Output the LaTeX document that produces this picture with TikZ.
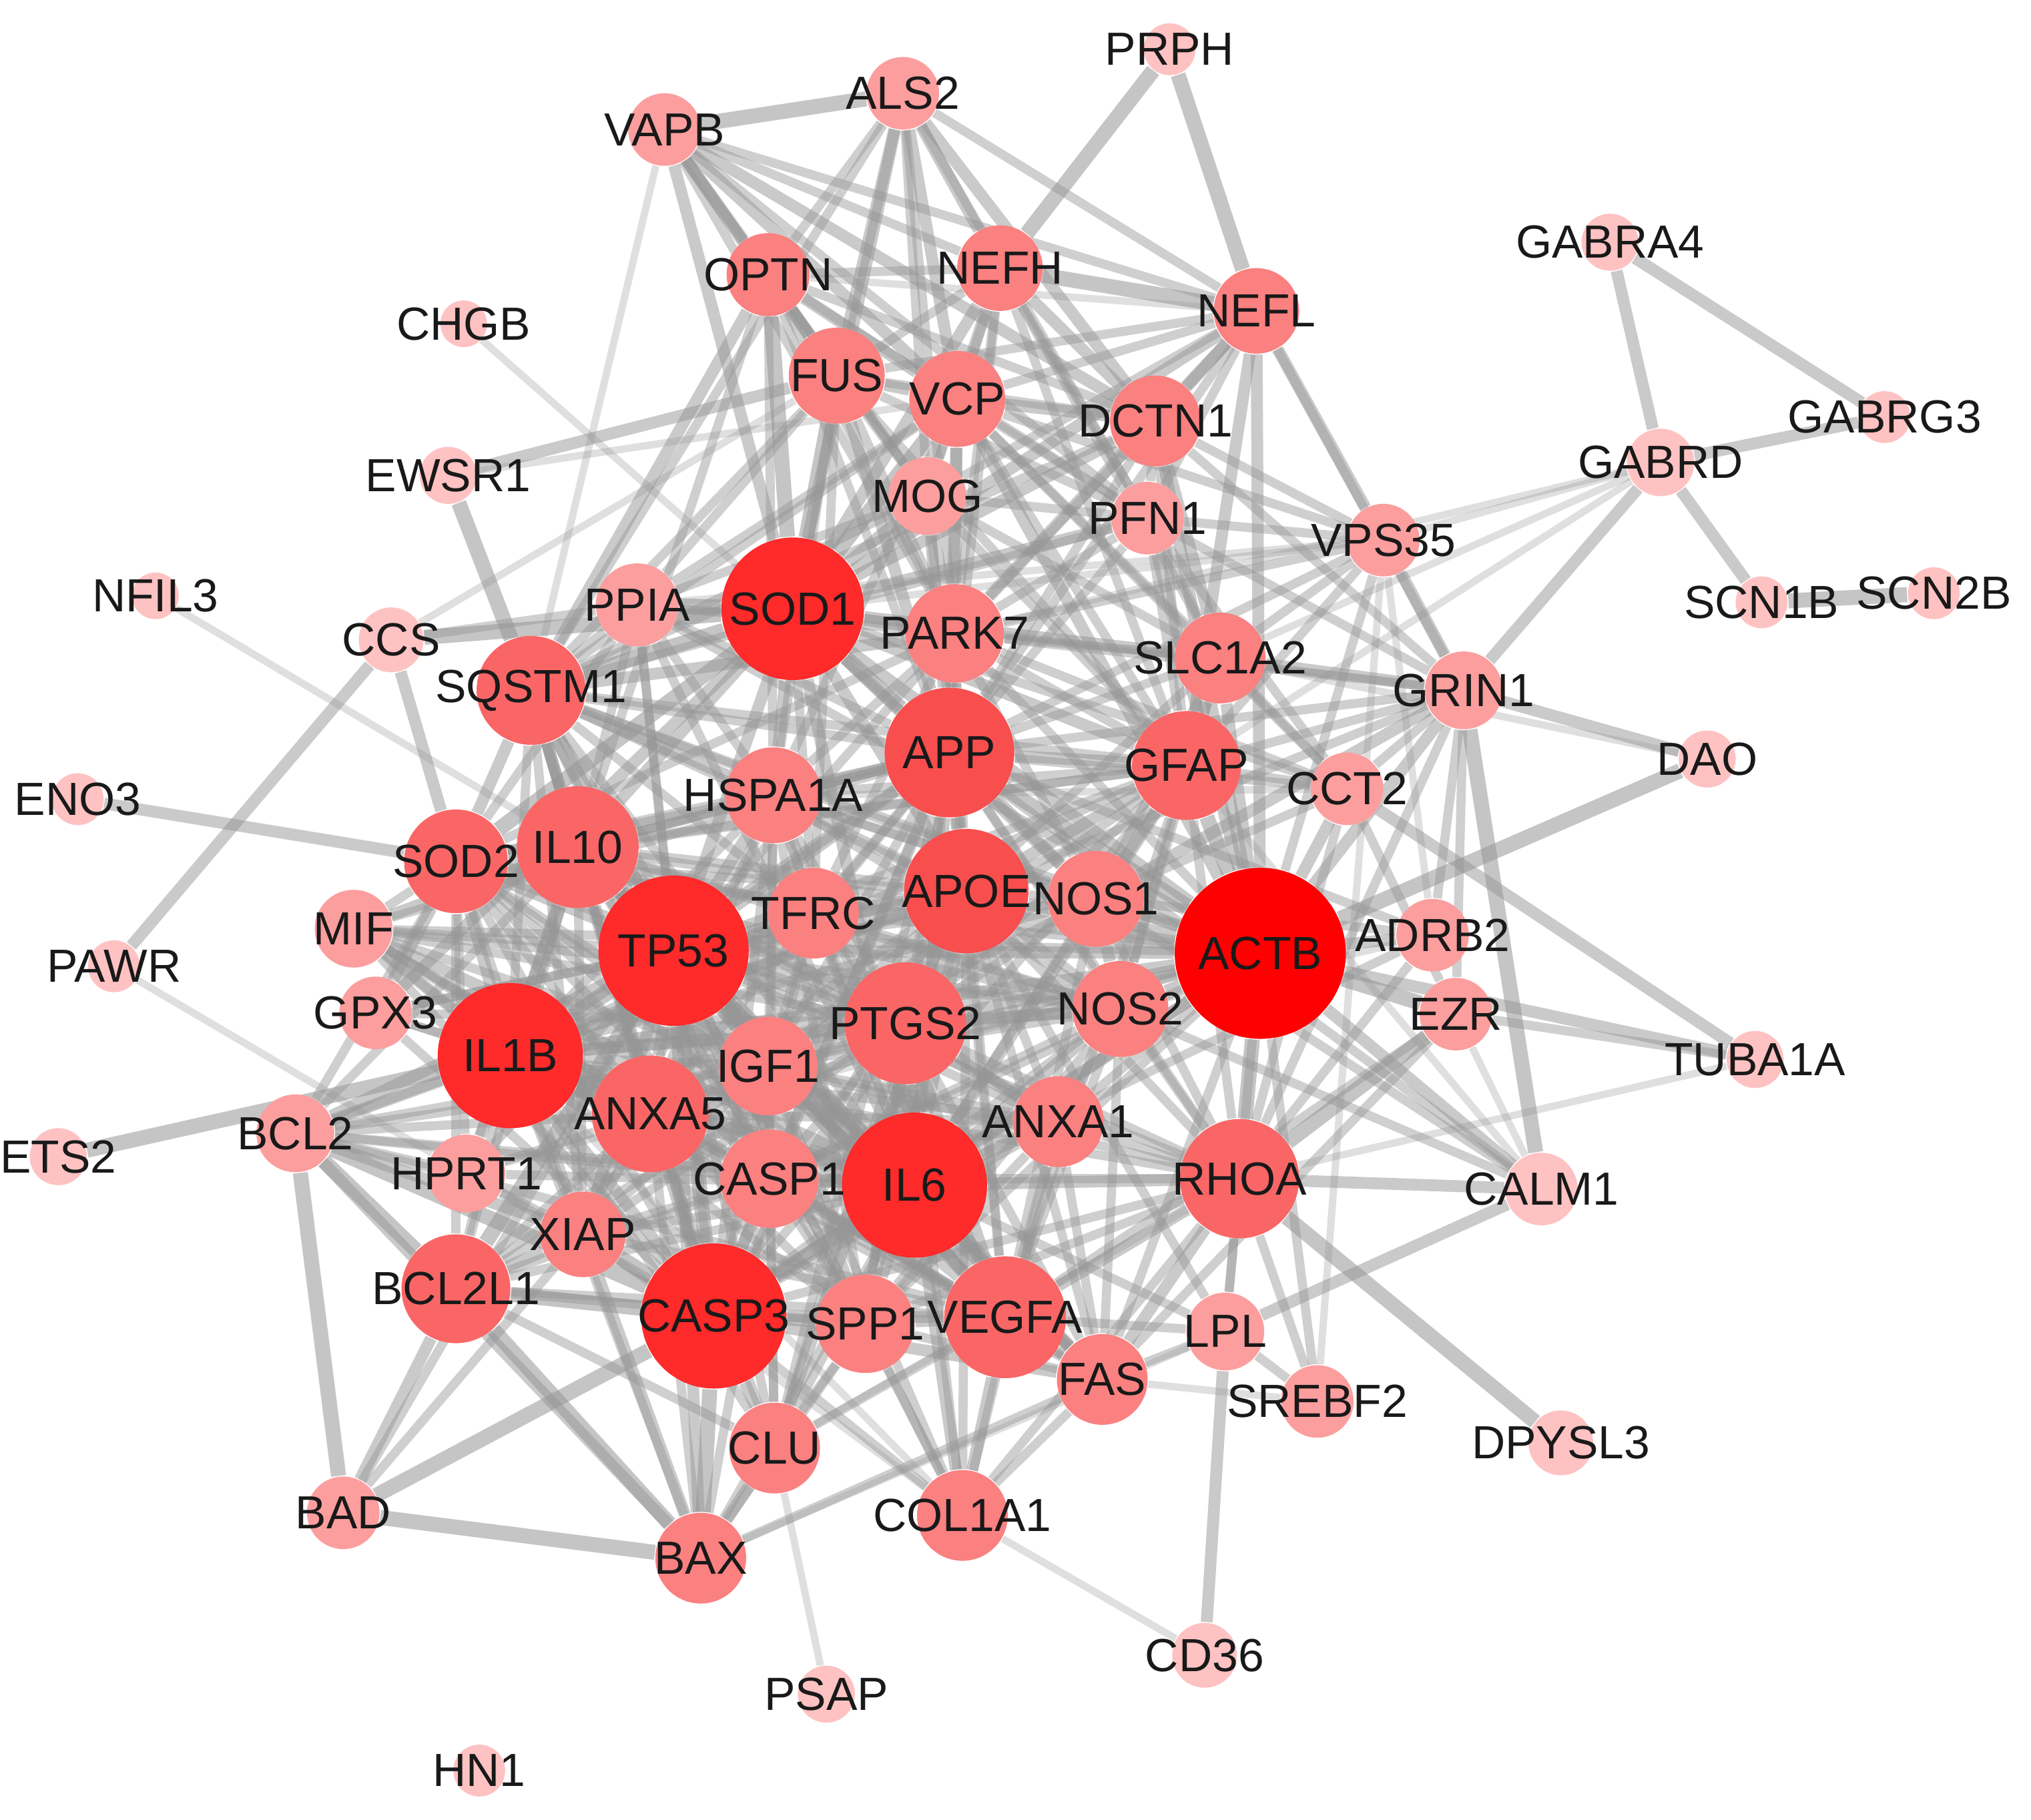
\documentclass[tikz,border=0pt]{standalone}
\usepackage{fontspec}
\setmainfont{Liberation Sans}
\pgfdeclarelayer{bg}
\pgfdeclarelayer{fg}
\pgfsetlayers{bg,main,fg}
\definecolor{edgec}{RGB}{150,150,150}
\definecolor{c0}{RGB}{255,0,0}
\definecolor{c1}{RGB}{255,42,42}
\definecolor{c2}{RGB}{248,78,78}
\definecolor{c3}{RGB}{250,102,102}
\definecolor{c4}{RGB}{251,128,128}
\definecolor{c5}{RGB}{252,158,158}
\definecolor{c6}{RGB}{254,194,194}
\definecolor{txt}{RGB}{25,25,25}
\tikzset{
  gnode/.style={circle, inner sep=0pt, draw=none},
  glabel/.style={text=txt, font=\fontsize{10.2}{12}\selectfont, inner sep=0pt},
  et/.style={draw=edgec, line width=3.3pt, opacity=0.55},
  em/.style={draw=edgec, line width=2.6pt, opacity=0.5},
  e/.style={draw=edgec, line width=2pt, opacity=0.45},
  el/.style={draw=edgec, line width=1.6pt, opacity=0.3}
}
\def\nodelist{PRPH/903/38/20/c6, ALS2/697/72/28/c5, VAPB/513/100/28/c5, OPTN/593/212/32/c4,
NEFH/772/207/33/c4, NEFL/970/240/33/c4, CHGB/358/250/18/c6, FUS/646/290/37/c4,
VCP/739/308/37/c4, DCTN1/892/325/35/c4, GABRA4/1243/187/22/c6, GABRG3/1455/322/20/c6,
GABRD/1282/357/26/c6, EWSR1/346/367/22/c6, MOG/716/383/30/c5, PFN1/886/400/28/c5,
VPS35/1068/417/28/c5, NFIL3/120/460/18/c6, SCN1B/1360/465/20/c6, SCN2B/1493/458/20/c6,
CCS/302/494/25/c6, PPIA/492/467/32/c5, SOD1/612/470/55/c1, PARK7/737/489/38/c4,
SLC1A2/942/508/35/c4, GRIN1/1130/533/30/c5, SQSTM1/410/533/42/c3, DAO/1318/586/22/c6,
APP/733/581/50/c2, HSPA1A/597/614/37/c4, GFAP/916/591/42/c3, CCT2/1040/609/28/c5,
ENO3/60/617/20/c6, SOD2/352/665/40/c3, IL10/446/654/47/c3, TFRC/628/705/35/c4,
APOE/746/688/48/c2, NOS1/846/694/37/c4, ACTB/973/736/66/c0, ADRB2/1106/722/28/c5,
MIF/273/717/30/c5, PAWR/88/746/20/c6, TP53/520/734/58/c1, GPX3/290/782/28/c5,
IL1B/394/815/56/c1, PTGS2/699/790/47/c3, NOS2/865/779/37/c4, EZR/1124/783/28/c5,
TUBA1A/1355/818/22/c6, IGF1/593/823/38/c4, ANXA5/502/860/45/c3, ANXA1/817/866/35/c4,
ETS2/45/893/22/c6, BCL2/228/875/30/c5, HPRT1/360/906/30/c5, CASP1/594/910/38/c4,
IL6/706/915/56/c1, RHOA/957/910/46/c3, CALM1/1190/918/28/c6, XIAP/450/953/33/c4,
BCL2L1/352/995/42/c3, CASP3/551/1016/56/c1, SPP1/668/1022/38/c4, VEGFA/776/1017/47/c3,
FAS/851/1065/35/c4, LPL/946/1028/30/c5, SREBF2/1017/1082/28/c5, DPYSL3/1205/1114/25/c6,
CLU/598/1118/35/c4, COL1A1/743/1170/35/c4, BAD/265/1168/28/c5, BAX/541/1203/35/c4,
CD36/930/1278/25/c6, PSAP/638/1308/22/c6, HN1/370/1367/20/c6}
\begin{document}
\begin{tikzpicture}[x=0.01cm, y=-0.01cm]
\useasboundingbox (0,0) rectangle (1568,1405);
\foreach \n/\x/\y/\r/\c in \nodelist {
  \node[gnode, fill=\c, minimum size=\r*0.02cm] (\n) at (\x,\y) {};
}
\begin{pgfonlayer}{fg}
\foreach \n/\x/\y/\r/\c in \nodelist {
  \node[glabel] (\n-l) at (\n) {\n};
}
\end{pgfonlayer}
\begin{pgfonlayer}{bg}
\fill[white] (0,0) rectangle (1568,1405);
% light edges
\foreach \a/\b in {CHGB/APP, CLU/PSAP, COL1A1/CD36, PAWR/HPRT1, VAPB/SQSTM1, CCS/FUS,
 GABRD/SLC1A2, GABRD/GFAP, GABRD/VPS35, GABRD/PARK7, DAO/SLC1A2, TUBA1A/RHOA,
 VPS35/ADRB2, VPS35/SREBF2, BAX/LPL, NEFL/OPTN, NFIL3/IL10, EWSR1/VCP, CLU/RHOA,
 SREBF2/FAS, CALM1/GFAP, VPS35/PPIA, GRIN1/SOD1, COL1A1/IL1B, COL1A1/XIAP, HPRT1/ACTB,
 VPS35/SOD1, CCT2/HSPA1A, ADRB2/NOS2, EZR/CALM1}
 \draw[el] (\a) -- (\b);
% thick edges
\foreach \a/\b in {VAPB/ALS2, PRPH/NEFH, PRPH/NEFL, NEFH/NEFL, CCS/SOD1, EWSR1/SQSTM1,
 BAD/BAX, BAD/BCL2, DAO/ACTB, RHOA/DPYSL3, GRIN1/CALM1, ETS2/IL1B, SCN1B/SCN2B,
 BCL2L1/CASP3, BAX/BCL2L1, EZR/ACTB, EZR/RHOA, BAD/CASP3, BAX/CASP3, BCL2/BCL2L1,
 SOD1/SOD2, IL6/IL1B, IL6/TP53, CASP3/TP53, IL6/CASP3, IL1B/TP53, IL1B/IL10, IL6/IL10,
 ACTB/RHOA, ACTB/APP, ACTB/GFAP, SOD1/APP, SOD1/OPTN, SOD1/FUS, APP/APOE, TP53/BCL2L1,
 BCL2/CASP3, IL6/VEGFA, IL6/PTGS2, SQSTM1/SOD1, SOD1/VCP, SOD1/PPIA, CASP3/XIAP,
 TP53/SQSTM1, IL10/TP53}
 \draw[et] (\a) -- (\b);
% medium edges
\foreach \a/\b in {GABRA4/GABRD, GABRA4/GABRG3, GABRD/GABRG3, GABRD/SCN1B, GABRD/GRIN1,
 NEFL/VPS35, VPS35/GRIN1, GRIN1/DAO, CCT2/TUBA1A, ACTB/TUBA1A, BCL2/BAX, BCL2L1/BAD,
 VAPB/OPTN, ALS2/SOD1, NEFH/DCTN1, NEFL/DCTN1, SQSTM1/OPTN, ACTB/CALM1, ENO3/SOD2,
 CCS/SOD2, PAWR/CCS, EWSR1/FUS, LPL/CD36, RHOA/CALM1, NOS1/GRIN1, ACTB/ADRB2, CALM1/LPL,
 BAX/TP53, BAX/XIAP, IL1B/CASP1, CASP1/IL6, TP53/SOD2, IL10/SOD2, ALS2/FUS, ALS2/VCP,
 ALS2/NEFH, ALS2/DCTN1, VAPB/FUS, VAPB/VCP, VAPB/SOD1, VAPB/DCTN1, OPTN/FUS, OPTN/VCP,
 FUS/VCP, VCP/DCTN1, NEFH/VCP, NEFH/SOD1, NEFL/SOD1, NEFL/GFAP, NEFL/ACTB,
 DCTN1/ACTB, VCP/ACTB, SOD1/PARK7, SOD1/DCTN1, SOD1/IL10, SOD1/TP53, SOD1/IL6, SOD1/ACTB,
 SOD1/APOE, SOD1/HSPA1A, SOD1/GFAP, APP/PARK7, APP/GFAP, APP/IL6, APP/TP53, APP/IL1B,
 APP/CASP3, APOE/IL6, APOE/IL1B, APOE/TP53, APOE/ACTB, APOE/GFAP, ACTB/IL6, ACTB/TP53,
 ACTB/CASP3, ACTB/PTGS2, ACTB/NOS2, ACTB/NOS1, ACTB/IL1B, ACTB/SLC1A2, ACTB/CCT2,
 ACTB/GRIN1, IL6/RHOA, CASP3/VEGFA, CASP3/IL1B, CASP3/IL10, CASP3/CASP1, CASP3/SPP1,
 TP53/PTGS2, TP53/VEGFA, TP53/IGF1, TP53/ANXA5, IL1B/PTGS2, IL1B/SOD2, IL1B/ANXA5,
 IL1B/MIF, IL10/PTGS2, IL10/VEGFA, IL10/SQSTM1, PTGS2/VEGFA, PTGS2/NOS2, IGF1/IL6,
 IGF1/VEGFA, SQSTM1/SOD2, SQSTM1/IL10, SQSTM1/PARK7, SQSTM1/HSPA1A, HSPA1A/APP,
 HSPA1A/TP53, GFAP/SLC1A2, GFAP/NOS1, GFAP/IL6, RHOA/VEGFA, RHOA/FAS, VEGFA/FAS,
 IL6/FAS, CASP3/FAS, TP53/FAS, IL6/SPP1, SPP1/VEGFA, COL1A1/VEGFA, COL1A1/IL6,
 CLU/APOE, CLU/CASP3, BAX/CLU, GPX3/SOD2, GPX3/SOD1, MIF/IL6, MIF/IL10, XIAP/BCL2L1,
 XIAP/TP53, BCL2/IL1B, BCL2/TP53, BCL2/XIAP, HPRT1/IL1B, ANXA5/CASP3, ANXA5/IL6,
 ANXA1/IL6, ANXA1/PTGS2, NOS2/IL6, NOS2/IL1B, NOS1/NOS2, NOS1/APP, NOS1/SOD1,
 SLC1A2/GRIN1, SLC1A2/SOD1, PARK7/VCP, PARK7/NEFL, FUS/APP, VCP/APP, DCTN1/SLC1A2,
 PFN1/SOD1, PFN1/ACTB, MOG/SOD1, MOG/APP}
 \draw[em] (\a) -- (\b);
% regular edges
\foreach \a/\b in {ALS2/OPTN, ALS2/SQSTM1, ALS2/PFN1, ALS2/MOG, ALS2/PARK7, ALS2/NEFL,
 VAPB/NEFH, VAPB/NEFL, VAPB/PFN1, VAPB/MOG, VAPB/PARK7, OPTN/NEFH, OPTN/DCTN1, OPTN/PFN1,
 OPTN/PARK7, OPTN/MOG, OPTN/IL10, OPTN/HSPA1A, FUS/NEFH, FUS/NEFL, FUS/DCTN1, FUS/PFN1,
 FUS/MOG, FUS/PARK7, FUS/SQSTM1, FUS/HSPA1A, FUS/GFAP, FUS/TFRC, VCP/NEFL, VCP/PFN1,
 VCP/MOG, VCP/SLC1A2, VCP/CCT2, VCP/VPS35, VCP/SQSTM1, VCP/HSPA1A, VCP/GFAP, VCP/PPIA,
 DCTN1/PFN1, DCTN1/PARK7, DCTN1/VPS35, DCTN1/GRIN1, DCTN1/APP, DCTN1/GFAP, NEFH/PFN1,
 NEFH/SLC1A2, NEFH/PARK7, NEFH/MOG, NEFH/APP, NEFH/GFAP, NEFL/PFN1, NEFL/GRIN1,
 NEFL/APP, NEFL/MOG, PFN1/PARK7, PFN1/MOG, PFN1/SLC1A2, PFN1/VPS35, PFN1/GRIN1,
 PFN1/CCT2, PFN1/APP, PFN1/GFAP, PARK7/MOG, PARK7/SLC1A2, PARK7/VPS35, PARK7/GRIN1,
 PARK7/NOS1, PARK7/SOD2, PARK7/PPIA, PARK7/TFRC, PARK7/CCT2, PARK7/GFAP, PARK7/HSPA1A,
 PARK7/TP53, PARK7/IL6, PARK7/ACTB, SLC1A2/NOS1, SLC1A2/NOS2, SLC1A2/VPS35, SLC1A2/CCT2,
 SLC1A2/MOG, SLC1A2/APP, SLC1A2/APOE, VPS35/APP, VPS35/ACTB, GRIN1/APP, GRIN1/CCT2,
 GRIN1/ADRB2, GRIN1/GFAP, GRIN1/APOE, GRIN1/EZR, GRIN1/RHOA, CCT2/SOD1, CCT2/APP,
 CCT2/GFAP, CCT2/EZR, CCT2/NOS1, TUBA1A/EZR, ADRB2/RHOA, ADRB2/IL6, ADRB2/APP,
 EZR/VEGFA, EZR/FAS, CALM1/NOS1, CALM1/NOS2, CALM1/APP, SREBF2/ACTB, SREBF2/LPL,
 SREBF2/RHOA, LPL/APOE, LPL/VEGFA, LPL/RHOA, LPL/IL6, LPL/ACTB, LPL/FAS,
 COL1A1/SPP1, COL1A1/TP53, COL1A1/CASP3, COL1A1/ANXA1, COL1A1/RHOA, COL1A1/PTGS2,
 COL1A1/APOE, COL1A1/FAS, COL1A1/IGF1, CLU/APP, CLU/IL6, CLU/VEGFA, CLU/BCL2L1, CLU/TP53,
 CLU/IL1B, CLU/SPP1, BAX/CASP1, BAX/IL6, BAX/SPP1, BAX/IL1B, BAX/ANXA5, BAD/TP53, BAD/XIAP,
 BCL2/HPRT1, BCL2/ANXA5, BCL2/IL6, BCL2/PTGS2, BCL2/SOD2, BCL2/IL10, BCL2/CASP1,
 BCL2/VEGFA, BCL2/APOE, BCL2L1/IL6, BCL2L1/IL1B, BCL2L1/SPP1, BCL2L1/VEGFA, BCL2L1/ANXA5,
 BCL2L1/CASP1, BCL2L1/SOD2, BCL2L1/IL10, HPRT1/IL6, HPRT1/TP53, HPRT1/CASP3, HPRT1/XIAP,
 HPRT1/IL10, HPRT1/SOD2, GPX3/IL6, GPX3/TP53, GPX3/APOE, GPX3/IL1B, GPX3/CASP3, GPX3/PTGS2,
 MIF/IL1B, MIF/TP53, MIF/CASP3, MIF/PTGS2, MIF/VEGFA, MIF/SOD2, MIF/ACTB, MIF/APP,
 MIF/CASP1, MIF/IGF1, SOD2/CASP1, SOD2/ANXA5, SOD2/XIAP, SOD2/PPIA, SOD2/APP, SOD2/APOE,
 SOD2/PTGS2, SOD2/VEGFA, SOD2/IGF1, SOD2/IL6, SOD2/CASP3, SOD2/ACTB, SOD2/NOS2,
 SOD2/HSPA1A, SOD2/GFAP, IL10/IGF1, IL10/CASP1, IL10/ANXA5, IL10/ANXA1, IL10/HSPA1A,
 IL10/NOS2, IL10/SPP1, IL10/XIAP, IL10/PPIA, IL10/TFRC, IL10/FAS, IL10/APOE, IL10/APP,
 IL10/ACTB, IL10/GFAP, PPIA/SQSTM1, PPIA/CCS, PPIA/TP53, PPIA/HSPA1A, PPIA/APP, PPIA/IL6,
 PPIA/ACTB, PPIA/FUS, PPIA/MOG, PPIA/CASP3, SQSTM1/MOG, SQSTM1/DCTN1, SQSTM1/PFN1,
 SQSTM1/TFRC, SQSTM1/IGF1, SQSTM1/CASP1, SQSTM1/ANXA5, SQSTM1/XIAP, SQSTM1/APP,
 SQSTM1/APOE, SQSTM1/IL6, SQSTM1/IL1B, SQSTM1/CASP3, SQSTM1/ACTB, SQSTM1/GFAP,
 SQSTM1/NOS1, HSPA1A/IGF1, HSPA1A/CASP1, HSPA1A/ANXA5, HSPA1A/TFRC, HSPA1A/NOS1,
 HSPA1A/NOS2, HSPA1A/XIAP, HSPA1A/SPP1, HSPA1A/IL6, HSPA1A/IL1B, HSPA1A/CASP3,
 HSPA1A/ACTB, HSPA1A/APOE, HSPA1A/PTGS2, HSPA1A/VEGFA, HSPA1A/GFAP, TFRC/APP, TFRC/APOE,
 TFRC/IL6, TFRC/TP53, TFRC/IL1B, TFRC/CASP3, TFRC/ACTB, TFRC/SOD1, TFRC/VEGFA,
 TFRC/PTGS2, TFRC/IGF1, TFRC/NOS2, APOE/PTGS2, APOE/VEGFA, APOE/IGF1, APOE/NOS1,
 APOE/NOS2, APOE/ANXA5, APOE/ANXA1, APOE/SPP1, APOE/CASP3, APOE/RHOA, APOE/FAS,
 APOE/PARK7, APOE/MOG, APP/IL10, APP/IGF1, APP/PTGS2, APP/VEGFA, APP/NOS2, APP/CASP1,
 APP/RHOA, APP/OPTN, APP/SPP1, APP/ANXA5, NOS1/IGF1, NOS1/RHOA, NOS1/ADRB2, NOS1/IL6,
 NOS1/IL1B, NOS1/TP53, NOS1/PTGS2, NOS1/VEGFA, NOS2/IGF1, NOS2/CASP1, NOS2/ANXA1,
 NOS2/RHOA, NOS2/FAS, NOS2/SPP1, NOS2/MIF, NOS2/TP53, NOS2/CASP3, NOS2/VEGFA, NOS2/GFAP,
 GFAP/IGF1, GFAP/RHOA, GFAP/IL1B, GFAP/TP53, GFAP/CASP3, GFAP/VEGFA, GFAP/PTGS2,
 GFAP/MOG, GFAP/VPS35, PTGS2/IGF1, PTGS2/CASP1, PTGS2/ANXA5, PTGS2/ANXA1, PTGS2/SPP1,
 PTGS2/FAS, PTGS2/RHOA, PTGS2/XIAP, PTGS2/CLU, PTGS2/CASP3, PTGS2/BCL2L1, VEGFA/CASP1,
 VEGFA/ANXA5, VEGFA/ANXA1, VEGFA/IL1B, VEGFA/XIAP, IGF1/CASP1, IGF1/ANXA5, IGF1/ANXA1,
 IGF1/SPP1, IGF1/FAS, IGF1/XIAP, IGF1/BCL2, IGF1/BCL2L1, IGF1/CLU, IGF1/IL1B, IGF1/CASP3,
 IGF1/ACTB, IGF1/RHOA, ANXA5/CASP1, ANXA5/ANXA1, ANXA5/SPP1, ANXA5/CLU, ANXA5/XIAP,
 ANXA5/HPRT1, ANXA5/MIF, ANXA5/ACTB, CASP1/ANXA1, CASP1/XIAP, CASP1/SPP1, CASP1/CLU,
 CASP1/FAS, CASP1/RHOA, CASP1/TP53, CASP1/ACTB, ANXA1/FAS, ANXA1/RHOA, ANXA1/ACTB,
 ANXA1/TP53, ANXA1/CASP3, ANXA1/IL1B, ANXA1/SPP1, RHOA/SPP1, RHOA/CASP3, RHOA/TP53,
 RHOA/IL1B, RHOA/CCT2, FAS/SPP1, FAS/IL1B, FAS/ACTB, FAS/BAX, SPP1/IL1B, SPP1/TP53,
 SPP1/ACTB, XIAP/IL6, XIAP/IL1B}
 \draw[e] (\a) -- (\b);
\end{pgfonlayer}
\end{tikzpicture}
\end{document}
